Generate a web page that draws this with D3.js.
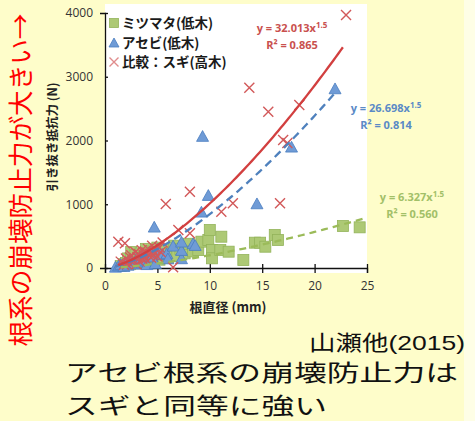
<!DOCTYPE html>
<html>
<head>
<meta charset="utf-8">
<script src="https://cdn.jsdelivr.net/npm/d3@7"></script>
<style>
  body { margin: 0; background: #fefdca; }
  svg { display: block; }
</style>
</head>
<body>
<script>
// ミツマタ(低木) : [根直径 mm, 引き抜き抵抗力 N]
var mitsumata = [[1.5,30],[1.8,60],[2.0,80],[2.2,150],[2.4,60],[2.5,250],[2.7,120],[2.9,200],[3.0,90],
  [3.2,160],[3.4,230],[3.5,110],[3.7,180],[3.9,300],[4.0,140],[4.2,220],[4.4,90],[4.6,260],[4.8,170],
  [5.0,320],[5.2,130],[5.5,210],[5.8,280],[6.0,160],[6.3,240],[6.6,350],[6.9,190],[7.2,300],[7.6,230],
  [8.0,380],[8.4,260],[8.9,282],[9.2,413],[9.86,439],[10.0,596],[10.2,282],[10.2,152],[11.0,282],
  [11.1,491],[11.8,256],[13.2,125],[14.3,397],[14.8,397],[15.3,334],[16.2,518],[16.5,439],[22.7,659],[24.3,638]];
// アセビ(低木)
var asebi = [[1.0,20],[1.3,40],[1.5,60],[1.8,30],[2.0,90],[2.2,50],[2.5,120],[2.8,70],[3.0,150],[3.3,100],
  [3.5,200],[3.8,130],[4.0,60],[4.3,250],[4.5,180],[4.8,75],[5.0,300],[4.7,648],[5.5,220],[5.9,230],[6.0,150],
  [6.5,350],[7.3,152],[7.3,282],[7.3,413],[8.4,387],[8.6,360],[9.2,883],[9.31,2071],[9.86,1145],
  [14.5,1014],[17.8,1903],[21.95,2818]];
// 比較：スギ(高木)
var sugi = [[1.27,413],[1.9,387],[1.5,100],[1.8,50],[2.0,150],[2.1,60],[2.3,80],[2.4,170],[2.5,200],[2.6,90],
  [2.7,120],[2.9,250],[3.0,60],[3.1,170],[3.2,220],[3.3,100],[3.4,180],[3.5,280],[3.6,130],[3.7,200],
  [3.8,260],[3.9,140],[4.0,240],[4.1,300],[4.3,220],[4.4,160],[4.5,350],[4.6,200],[4.7,260],[4.8,300],
  [5.0,180],[5.2,320],[5.3,250],[5.5,400],[5.8,1004],[6.5,10],[7.0,596],[8.1,544],[8.1,1197],[11.1,883],
  [12.2,1014],[13.77,2828],[15.58,2452],[16.7,1014],[17.0,2008],[17.4,1960],[18.54,2557],[23.0,3969]];

// 近似式 y = a x^1.5
var fitCoef = [6.327, 26.698, 32.013];
var fitR2 = ["0.560", "0.814", "0.865"];
var fitRange = [[1.5, 25], [1.0, 21.95], [1.27, 22.7]];

var xTicks = [0, 5, 10, 15, 20, 25];
var yTicks = [0, 1000, 2000, 3000, 4000];
var legendNames = ["ミツマタ(低木)", "アセビ(低木)", "比較：スギ(高木)"];
var noteLines = ["アセビ根系の崩壊防止力は", "スギと同等に強い"];

var W = 475, H = 421;
var svg = d3.select("body").append("svg").attr("width", W).attr("height", H);

// 背景
svg.append("rect").attr("width", W).attr("height", H).attr("fill", "#fefdca");
svg.append("rect").attr("x", 464).attr("width", W - 464).attr("height", H).attr("fill", "#fefee6");

var x = d3.scaleLinear().domain([0, 25]).range([105, 367]);
var y = d3.scaleLinear().domain([0, 4000]).range([268, 13]);

// プロットエリア
svg.append("rect").attr("x", 105).attr("y", 4).attr("width", 262).attr("height", 269).attr("fill", "#ffffff");

var green = "#9bbb59", blue = "#4f81bd";

// 軸
var gx = svg.append("g").attr("transform", "translate(0,268)")
  .call(d3.axisBottom(x).tickValues(xTicks).tickSize(5).tickPadding(8).tickFormat(d3.format("d")));
var gy = svg.append("g").attr("transform", "translate(105,0)")
  .call(d3.axisLeft(y).tickValues(yTicks).tickSize(5).tickPadding(7).tickFormat(d3.format("d")));
[gx, gy].forEach(function (g) {
  g.select(".domain").attr("stroke", "#111").attr("stroke-width", 1.3);
  g.selectAll(".tick line").attr("stroke", "#111").attr("stroke-width", 1.3);
  g.selectAll(".tick text").attr("fill", "#333").style("font-family", "'Open Sans', sans-serif")
    .style("font-size", "12px");
});
gx.selectAll(".tick line").attr("y1", -4);
gy.selectAll(".tick line").attr("x2", 3);

// 軸タイトル
svg.append("text").attr("x", 228).attr("y", 312).attr("text-anchor", "middle")
  .attr("fill", "#222").style("font-family", "'Noto Sans CJK JP'").style("font-weight", "bold")
  .style("font-size", "13px").text("根直径 (mm)");
svg.append("text").attr("transform", "translate(57,137) rotate(-90)").attr("text-anchor", "middle")
  .attr("fill", "#222").style("font-family", "'Noto Sans CJK JP'").style("font-weight", "bold")
  .style("font-size", "12.5px").text("引き抜き抵抗力 (N)");

// マーカー
function square(g, d, s) {
  g.append("rect").attr("x", d[0] - s / 2).attr("y", d[1] - s / 2).attr("width", s).attr("height", s)
    .attr("fill", "#adc975").attr("stroke", "#93b35a").attr("stroke-width", 0.8);
}
function triangle(g, d, s) {
  var h = s * 0.9;
  g.append("path").attr("d", "M" + d[0] + "," + (d[1] - h / 2) + "L" + (d[0] + s / 2) + "," + (d[1] + h / 2)
    + "L" + (d[0] - s / 2) + "," + (d[1] + h / 2) + "Z")
    .attr("fill", "#6f9bd6").attr("stroke", "#4a7ec0").attr("stroke-width", 0.8);
}
function cross(g, d, s, col) {
  var r = s / 2;
  g.append("path").attr("d", "M" + (d[0] - r) + "," + (d[1] - r) + "L" + (d[0] + r) + "," + (d[1] + r)
    + "M" + (d[0] - r) + "," + (d[1] + r) + "L" + (d[0] + r) + "," + (d[1] - r))
    .attr("stroke", col).attr("stroke-width", 1.4).attr("fill", "none");
}

var pts = svg.append("g");
mitsumata.forEach(function (d) { square(pts, [x(d[0]), y(d[1])], 11); });
asebi.forEach(function (d) { triangle(pts, [x(d[0]), y(d[1])], 12); });
sugi.forEach(function (d) { cross(pts, [x(d[0]), y(d[1])], 10, "#d2595a"); });

// 近似曲線
var line = d3.line().x(function (d) { return x(d[0]); }).y(function (d) { return y(d[1]); });
var fitColors = [green, blue, "#d23f3f"];
var fitDash = ["7,5", "8,5", null];
fitCoef.forEach(function (a, i) {
  var r = fitRange[i];
  var data = d3.range(r[0], r[1], 0.25).concat([r[1]]).map(function (v) { return [v, a * Math.pow(v, 1.5)]; });
  svg.append("path").datum(data).attr("d", line).attr("fill", "none")
    .attr("stroke", fitColors[i]).attr("stroke-width", 2.3)
    .attr("stroke-dasharray", fitDash[i]);
});

// 近似式ラベル
var eqPos = [[412, 201], [386, 112], [292, 32]];
var eqColors = ["#a2c068", "#5a8ac6", "#c9504e"];
fitCoef.forEach(function (a, i) {
  var p = eqPos[i];
  var t = svg.append("text").attr("x", p[0]).attr("y", p[1]).attr("text-anchor", "middle")
    .attr("fill", eqColors[i]).style("font-family", "'Open Sans', sans-serif").style("font-weight", "bold")
    .style("font-size", "11px");
  t.append("tspan").text("y = " + d3.format(".3f")(a) + "x");
  t.append("tspan").attr("dy", -4).style("font-size", "8px").text("1.5");
  svg.append("text").attr("x", p[0]).attr("y", p[1] + 17).attr("text-anchor", "middle")
    .attr("fill", eqColors[i]).style("font-family", "'Open Sans', sans-serif").style("font-weight", "bold")
    .style("font-size", "11px").text("R² = " + fitR2[i]);
});

// 凡例
var leg = svg.append("g");
legendNames.forEach(function (name, i) {
  var cy = 23 + i * 19.5;
  if (i === 0) square(leg, [114, cy], 9);
  if (i === 1) triangle(leg, [114, cy], 10);
  if (i === 2) cross(leg, [114, cy], 9, "#e08c8c");
  leg.append("text").attr("x", 122).attr("y", cy + 5).attr("fill", "#1a1a1a")
    .style("font-family", "'Noto Sans CJK JP'").style("font-weight", "bold").style("font-size", "13.5px")
    .text(name);
});

// 注記
svg.append("text").attr("transform", "translate(30,180) rotate(-90)").attr("text-anchor", "middle")
  .attr("fill", "#ff0000").style("font-family", "'Noto Sans CJK JP'").style("font-size", "25px")
  .attr("textLength", 333).attr("lengthAdjust", "spacingAndGlyphs")
  .text("根系の崩壊防止力が大きい→");
svg.append("text").attr("x", 465).attr("y", 350).attr("text-anchor", "end").attr("fill", "#111")
  .style("font-family", "'Liberation Sans', 'Noto Sans CJK JP'").style("font-size", "21px")
  .attr("textLength", 156).attr("lengthAdjust", "spacingAndGlyphs").text("山瀬他(2015)");

// 2行のまとめ
var noteLen = [393, 262];
noteLines.forEach(function (s, i) {
  svg.append("text").attr("x", 65).attr("y", 381 + i * 33).attr("fill", "#111")
    .style("font-family", "'Noto Sans CJK JP'").style("font-size", "22.5px")
    .attr("textLength", noteLen[i]).attr("lengthAdjust", "spacingAndGlyphs").text(s);
});
</script>
</body>
</html>
